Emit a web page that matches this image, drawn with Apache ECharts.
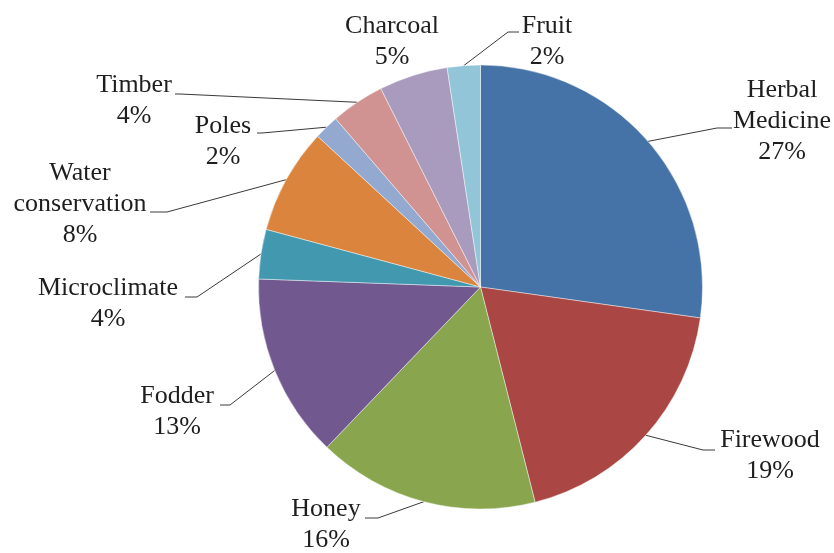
<!DOCTYPE html>
<html>
<head>
<meta charset="utf-8">
<script src="https://cdn.jsdelivr.net/npm/echarts@6/dist/echarts.min.js"></script>
<style>
html,body{margin:0;padding:0;background:#fff;}
#chart{width:834px;height:553px;}
</style>
</head>
<body>
<div id="chart"></div>
<script>
// Data (share of responses, %)
var categories = ["Herbal Medicine", "Firewood", "Honey", "Fodder", "Microclimate",
                  "Water conservation", "Poles", "Timber", "Charcoal", "Fruit"];
var values = [27.2, 18.8, 16.1, 13.4, 3.6, 7.7, 1.8, 3.9, 5.0, 2.4];

var colors = ["#4572A7", "#AA4643", "#89A54E", "#71588F", "#4198AF",
              "#DB843D", "#93A9CF", "#D19392", "#A99BBD", "#92C5D8"];

// Label layout (text block centre, leader elbow and end) per category
var labelPlacement = {
  "Herbal Medicine":    {x: 782, y: 121, elbow: [717, 128], end: [732, 128]},
  "Firewood":           {x: 770, y: 456, elbow: [703, 450], end: [715, 450]},
  "Honey":              {x: 326, y: 525, elbow: [378, 518], end: [365, 518]},
  "Fodder":             {x: 177, y: 412, elbow: [230, 405], end: [220, 405]},
  "Microclimate":       {x: 108, y: 304, elbow: [197, 297], end: [185, 297]},
  "Water conservation": {x: 80,  y: 204, elbow: [167, 212], end: [150, 212]},
  "Poles":              {x: 223, y: 142, elbow: [262, 133], end: [257, 133]},
  "Timber":             {x: 134, y: 101, elbow: [180, 94],  end: [175, 94]},
  "Charcoal":           {x: 392, y: 42,  elbow: null,       end: null},
  "Fruit":              {x: 547, y: 42,  elbow: [508, 32],  end: [519, 32]}
};

var seriesData = categories.map(function (c, i) {
  return {name: c, value: values[i], itemStyle: {color: colors[i]}};
});

var chart = echarts.init(document.getElementById('chart'), null, {renderer: 'canvas'});
chart.setOption({
  animation: false,
  backgroundColor: '#ffffff',
  series: [{
    type: 'pie',
    center: [480.5, 287],
    radius: 222,
    startAngle: 90,
    clockwise: true,
    avoidLabelOverlap: false,
    silent: true,
    data: seriesData,
    itemStyle: {borderColor: 'rgba(255,255,255,0.55)', borderWidth: 0.8},
    label: {
      show: true,
      position: 'outside',
      fontFamily: 'Liberation Serif',
      fontSize: 26,
      lineHeight: 31,
      color: '#1e1e1e',
      align: 'center',
      formatter: function (p) {
        return p.name.replace(' ', '\n') + '\n' + Math.round(p.percent) + '%';
      }
    },
    labelLine: {
      show: true,
      length: 10,
      length2: 10,
      lineStyle: {color: '#3a3a3a', width: 1}
    },
    labelLayout: function (params) {
      var name = categories[params.dataIndex];
      var lp = labelPlacement[name];
      var start = params.labelLinePoints ? params.labelLinePoints[0] : [lp.x, lp.y];
      var pts;
      if (lp.elbow) {
        pts = [start, lp.elbow, lp.end];
      } else {
        pts = [start, start, start];
      }
      return {
        x: lp.x,
        y: lp.y,
        align: 'center',
        verticalAlign: 'middle',
        labelLinePoints: pts
      };
    }
  }]
});
</script>
</body>
</html>
